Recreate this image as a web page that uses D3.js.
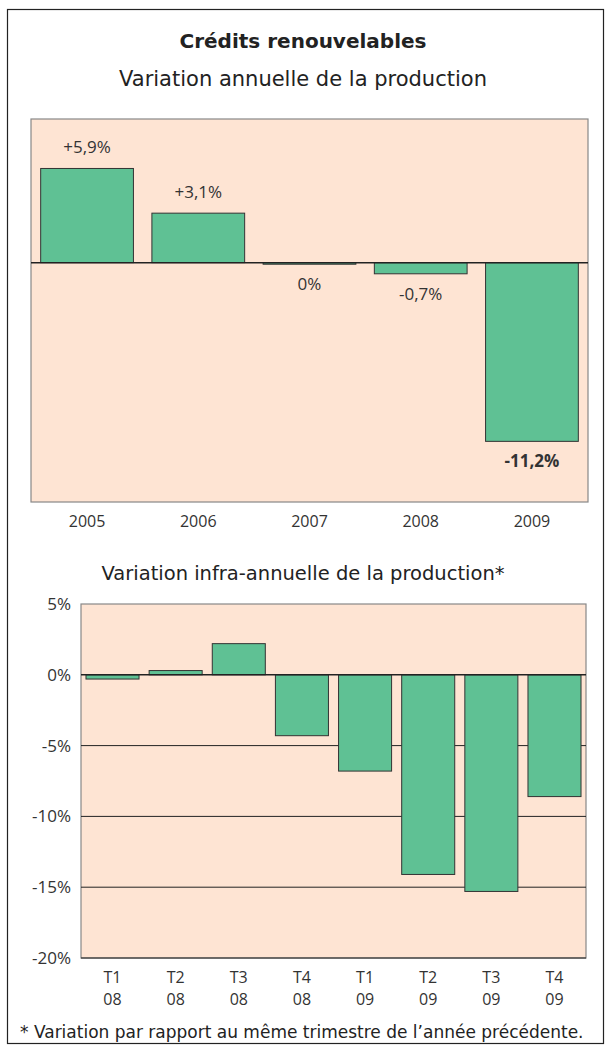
<!DOCTYPE html>
<html>
<head>
<meta charset="utf-8">
<script src="https://cdn.jsdelivr.net/npm/d3@7"></script>
<style>
  body { margin: 0; background: #fff; }
  svg { display: block; }
</style>
</head>
<body>
<div id="chart"></div>
<script>
// annual data
let years = ["2005", "2006", "2007", "2008", "2009"];
let annualValues = [5.9, 3.1, -0.1, -0.7, -11.2];
let annualLabels = ["+5,9%", "+3,1%", "0%", "-0,7%", "-11,2%"];

// quarterly data
let quarters = ["T1", "T2", "T3", "T4", "T1", "T2", "T3", "T4"];
let quarterYears = ["08", "08", "08", "08", "09", "09", "09", "09"];
let quarterValues = [-0.3, 0.3, 2.2, -4.3, -6.8, -14.1, -15.3, -8.6];
let yTicks = [5, 0, -5, -10, -15, -20];

let w = 608;
let h = 1051;
let panelFill = "#fee4d3";
let barFill = "#5fc194";
let titleFont = "'DejaVu Sans', sans-serif";
let numFont = "'Open Sans', 'Noto Sans', sans-serif";

let svg = d3
  .select("#chart")
  .append("svg")
  .attr("width", w)
  .attr("height", h);

svg
  .append("rect")
  .attr("x", 7.5)
  .attr("y", 9.5)
  .attr("width", 596)
  .attr("height", 1034)
  .attr("fill", "#fff")
  .attr("stroke", "#222")
  .attr("stroke-width", 1.2);

svg
  .append("text")
  .attr("x", 303)
  .attr("y", 48)
  .attr("text-anchor", "middle")
  .attr("font-family", titleFont)
  .attr("font-weight", "bold")
  .attr("font-size", 20)
  .attr("fill", "#222")
  .text("Crédits renouvelables");

svg
  .append("text")
  .attr("x", 303)
  .attr("y", 86)
  .attr("text-anchor", "middle")
  .attr("font-family", titleFont)
  .attr("font-size", 21)
  .attr("fill", "#222")
  .text("Variation annuelle de la production");

// ---- top chart ----
let box1 = { x0: 31, x1: 588, y0: 119, y1: 502 };

let x1 = d3
  .scaleBand()
  .domain(years)
  .range([box1.x0, box1.x1])
  .paddingInner(0.166)
  .paddingOuter(0.087);
let y1 = d3.scaleLinear().domain([-15, 9]).range([box1.y1, box1.y0]);

svg
  .append("rect")
  .attr("x", box1.x0)
  .attr("y", box1.y0)
  .attr("width", box1.x1 - box1.x0)
  .attr("height", box1.y1 - box1.y0)
  .attr("fill", panelFill)
  .attr("stroke", "#888")
  .attr("stroke-width", 1.2);

svg
  .append("g")
  .selectAll("rect")
  .data(annualValues)
  .enter()
  .append("rect")
  .attr("x", (d, i) => x1(years[i]))
  .attr("y", d => y1(Math.max(0, d)))
  .attr("width", x1.bandwidth())
  .attr("height", d => Math.abs(y1(d) - y1(0)))
  .attr("fill", barFill)
  .attr("stroke", "#333")
  .attr("stroke-width", 1);

svg
  .append("line")
  .attr("x1", box1.x0)
  .attr("x2", box1.x1)
  .attr("y1", y1(0))
  .attr("y2", y1(0))
  .attr("stroke", "#222")
  .attr("stroke-width", 1.5);

svg
  .append("g")
  .selectAll("text")
  .data(annualValues)
  .enter()
  .append("text")
  .attr("x", (d, i) => x1(years[i]) + x1.bandwidth() / 2)
  .attr("y", d => (d > 0 ? y1(d) - 15 : y1(d) + 26))
  .attr("text-anchor", "middle")
  .attr("font-family", numFont)
  .attr("font-size", 17)
  .attr("font-weight", (d, i) => (i === 4 ? "bold" : "normal"))
  .attr("fill", "#333")
  .text((d, i) => annualLabels[i]);

svg
  .append("g")
  .selectAll("text")
  .data(years)
  .enter()
  .append("text")
  .attr("x", d => x1(d) + x1.bandwidth() / 2)
  .attr("y", box1.y1 + 25)
  .attr("text-anchor", "middle")
  .attr("font-family", numFont)
  .attr("font-size", 16)
  .attr("fill", "#333")
  .text(d => d);

// ---- bottom chart ----
svg
  .append("text")
  .attr("x", 303)
  .attr("y", 580)
  .attr("text-anchor", "middle")
  .attr("font-family", titleFont)
  .attr("font-size", 19.5)
  .attr("fill", "#222")
  .text("Variation infra-annuelle de la production*");

let box2 = { x0: 81, x1: 586, y0: 604, y1: 958 };
let keys = quarters.map((q, i) => i);

let x2 = d3
  .scaleBand()
  .domain(keys)
  .range([box2.x0, box2.x1])
  .paddingInner(0.16)
  .paddingOuter(0.079);
let y2 = d3.scaleLinear().domain([-20, 5]).range([box2.y1, box2.y0]);

svg
  .append("rect")
  .attr("x", box2.x0)
  .attr("y", box2.y0)
  .attr("width", box2.x1 - box2.x0)
  .attr("height", box2.y1 - box2.y0)
  .attr("fill", panelFill)
  .attr("stroke", "#888")
  .attr("stroke-width", 1.2);

svg
  .append("g")
  .selectAll("line")
  .data([-5, -10, -15])
  .enter()
  .append("line")
  .attr("x1", box2.x0)
  .attr("x2", box2.x1)
  .attr("y1", d => y2(d))
  .attr("y2", d => y2(d))
  .attr("stroke", "#222")
  .attr("stroke-width", 1);

svg
  .append("g")
  .selectAll("rect")
  .data(quarterValues)
  .enter()
  .append("rect")
  .attr("x", (d, i) => x2(i))
  .attr("y", d => y2(Math.max(0, d)))
  .attr("width", x2.bandwidth())
  .attr("height", d => Math.abs(y2(d) - y2(0)))
  .attr("fill", barFill)
  .attr("stroke", "#333")
  .attr("stroke-width", 1);

svg
  .append("line")
  .attr("x1", box2.x0)
  .attr("x2", box2.x1)
  .attr("y1", y2(0))
  .attr("y2", y2(0))
  .attr("stroke", "#222")
  .attr("stroke-width", 1.5);

svg
  .append("line")
  .attr("x1", box2.x0)
  .attr("x2", box2.x1)
  .attr("y1", box2.y1)
  .attr("y2", box2.y1)
  .attr("stroke", "#222")
  .attr("stroke-width", 1.2);

svg
  .append("g")
  .selectAll("text")
  .data(yTicks)
  .enter()
  .append("text")
  .attr("x", box2.x0 - 10)
  .attr("y", d => y2(d) + 6)
  .attr("text-anchor", "end")
  .attr("font-family", numFont)
  .attr("font-size", 17)
  .attr("fill", "#333")
  .text(d => d + "%");

let xl = svg
  .append("g")
  .selectAll("text")
  .data(keys)
  .enter()
  .append("text")
  .attr("text-anchor", "middle")
  .attr("font-family", numFont)
  .attr("font-size", 16)
  .attr("fill", "#333");

xl.append("tspan")
  .attr("x", d => x2(d) + x2.bandwidth() / 2)
  .attr("y", box2.y1 + 25)
  .text(d => quarters[d]);

xl.append("tspan")
  .attr("x", d => x2(d) + x2.bandwidth() / 2)
  .attr("y", box2.y1 + 47)
  .text(d => quarterYears[d]);

svg
  .append("text")
  .attr("x", 20)
  .attr("y", 1038)
  .attr("font-family", titleFont)
  .attr("font-size", 17)
  .attr("fill", "#222")
  .text("*  Variation par rapport au même trimestre de l’année précédente.");
</script>
</body>
</html>
